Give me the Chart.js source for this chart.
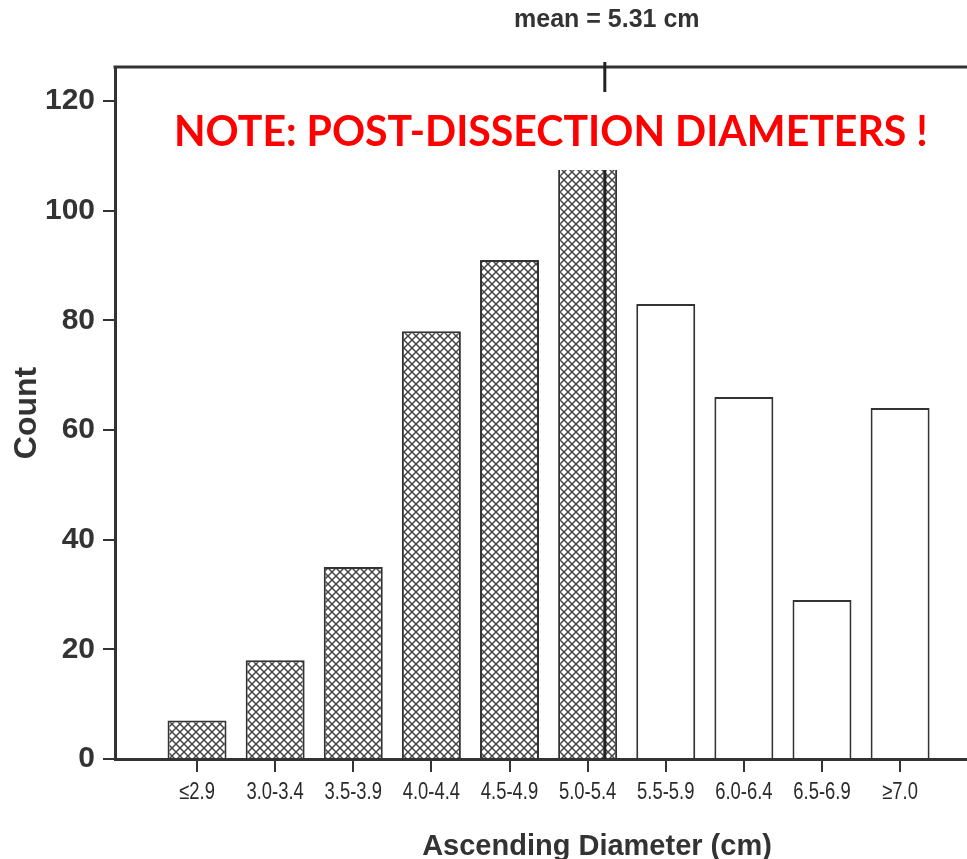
<!DOCTYPE html>
<html><head><meta charset="utf-8">
<script src="https://cdn.jsdelivr.net/npm/chart.js@4/dist/chart.umd.min.js"></script>
<style>html,body{margin:0;padding:0;background:#fff;overflow:hidden}#wrap{width:1100px;height:859px;position:relative}</style>
</head><body><div id="wrap"><canvas id="c" width="1100" height="859"></canvas></div>
<script>
const categories = ['≤2.9','3.0-3.4','3.5-3.9','4.0-4.4','4.5-4.9','5.0-5.4','5.5-5.9','6.0-6.4','6.5-6.9','≥7.0'];
const counts = [7,18,35,78,91,114,83,66,29,64];
const binCenters = [2.7,3.2,3.7,4.2,4.7,5.2,5.7,6.2,6.7,7.2];
const meanDiameter = 5.31;
const yTicks = [0,20,40,60,80,100,120];
const meanLabel = 'mean = 5.31 cm';
const noteText = 'NOTE: POST-DISSECTION DIAMETERS !';
const xTitle = 'Ascending Diameter (cm)';
const yTitle = 'Count';

const meanIndex = 5 + (meanDiameter - binCenters[5]) / (binCenters[6] - binCenters[5]);
const DARK = '#333';

const canvas = document.getElementById('c');
const ctx = canvas.getContext('2d');
function makeHatch(){
  const t = document.createElement('canvas'); t.width = 8; t.height = 8;
  const g = t.getContext('2d');
  g.fillStyle = '#fff'; g.fillRect(0,0,8,8);
  g.strokeStyle = '#444'; g.lineWidth = 1.45;
  g.beginPath(); g.moveTo(-1,-1); g.lineTo(9,9); g.moveTo(9,-1); g.lineTo(-1,9); g.stroke();
  return ctx.createPattern(t,'repeat');
}
const hatch = makeHatch();
const fills = counts.map((v,i)=> i < meanIndex ? hatch : '#fff');

const overlay = {
  id:'overlay',
  afterDatasetsDraw(chart){
    const c = chart.ctx, a = chart.chartArea, xs = chart.scales.x;
    const mx = xs.getPixelForValue(meanIndex);
    c.save();
    c.strokeStyle = DARK; c.lineWidth = 3;
    c.beginPath(); c.moveTo(a.left-1.5, a.top); c.lineTo(a.right, a.top); c.stroke();
    c.strokeStyle = '#222'; c.lineWidth = 3;
    c.beginPath(); c.moveTo(mx, a.top-5); c.lineTo(mx, a.bottom); c.stroke();
    c.fillStyle = DARK; c.font = 'bold 25px "Liberation Sans", Arial, sans-serif';
    c.textAlign = 'center'; c.textBaseline = 'alphabetic';
    c.fillText(meanLabel, mx+2, 27);
    c.fillStyle = '#fff'; c.fillRect(160, 92, 780, 78);
    c.font = 'bold 44px Lato, "Open Sans", sans-serif';
    const w = c.measureText(noteText).width;
    const fs = 44 * 754 / w;
    c.font = 'bold ' + fs.toFixed(2) + 'px Lato, "Open Sans", sans-serif';
    c.fillStyle = '#ff0000'; c.textAlign = 'left';
    c.fillText(noteText, 174, 146);
    c.restore();
  },
  afterDraw(chart){
    const c = chart.ctx, xs = chart.scales.x, a = chart.chartArea;
    c.save();
    c.fillStyle = '#2a2a2a'; c.font = '23px "Liberation Sans", Arial, sans-serif';
    c.textAlign = 'center'; c.textBaseline = 'alphabetic';
    categories.forEach((lab,i)=>{
      const px = xs.getPixelForValue(i);
      c.save(); c.translate(px, a.bottom + 40); c.scale(0.8, 1);
      c.fillText(lab, 0, 0); c.restore();
    });
    c.restore();
  }
};

new Chart(canvas, {
  type:'bar',
  data:{ datasets:[{
    data: counts.map((v,i)=>({x:i, y:v})),
    backgroundColor: fills,
    borderColor: DARK,
    borderWidth: 2,
    borderSkipped: 'bottom',
    barPercentage: 0.755,
    categoryPercentage: 1
  }]},
  options:{
    responsive:false, animation:false,
    layout:{padding:{top:67, right:21, left:0, bottom:0}},
    plugins:{legend:{display:false}, title:{display:false}, tooltip:{enabled:false}},
    scales:{
      x:{
        type:'linear', offset:false, min:-1.05, max:11.29,
        afterBuildTicks(s){ s.ticks = categories.map((c,i)=>({value:i})); },
        afterFit(s){ s.height = 100; },
        ticks:{ callback:(v)=>categories[v], color:'rgba(0,0,0,0)', padding:5, maxRotation:0, autoSkip:false,
          font:{family:'"Liberation Sans", Arial, sans-serif', size:18} },
        grid:{ offset:false, drawOnChartArea:false, drawTicks:true, tickLength:13, color:DARK, lineWidth:2 },
        border:{ display:true, color:DARK, width:3 },
        title:{ display:true, text:xTitle, color:DARK, padding:{top:0,bottom:-5},
          font:{family:'"Liberation Sans", Arial, sans-serif', size:29, weight:'bold'} }
      },
      y:{
        min:0, max:126.2,
        afterBuildTicks(s){ s.ticks = yTicks.map(v=>({value:v})); },
        afterFit(s){ s.width = 115; },
        ticks:{ color:DARK, padding:8, font:{family:'"Liberation Sans", Arial, sans-serif', size:30, weight:'bold'} },
        grid:{ drawOnChartArea:false, drawTicks:true, tickLength:12, color:DARK, lineWidth:2 },
        border:{ display:true, color:DARK, width:3 },
        title:{ display:true, text:yTitle, color:DARK, padding:{top:8,bottom:4},
          font:{family:'"Liberation Sans", Arial, sans-serif', size:32, weight:'bold'} }
      }
    }
  },
  plugins:[overlay]
});
</script></body></html>
